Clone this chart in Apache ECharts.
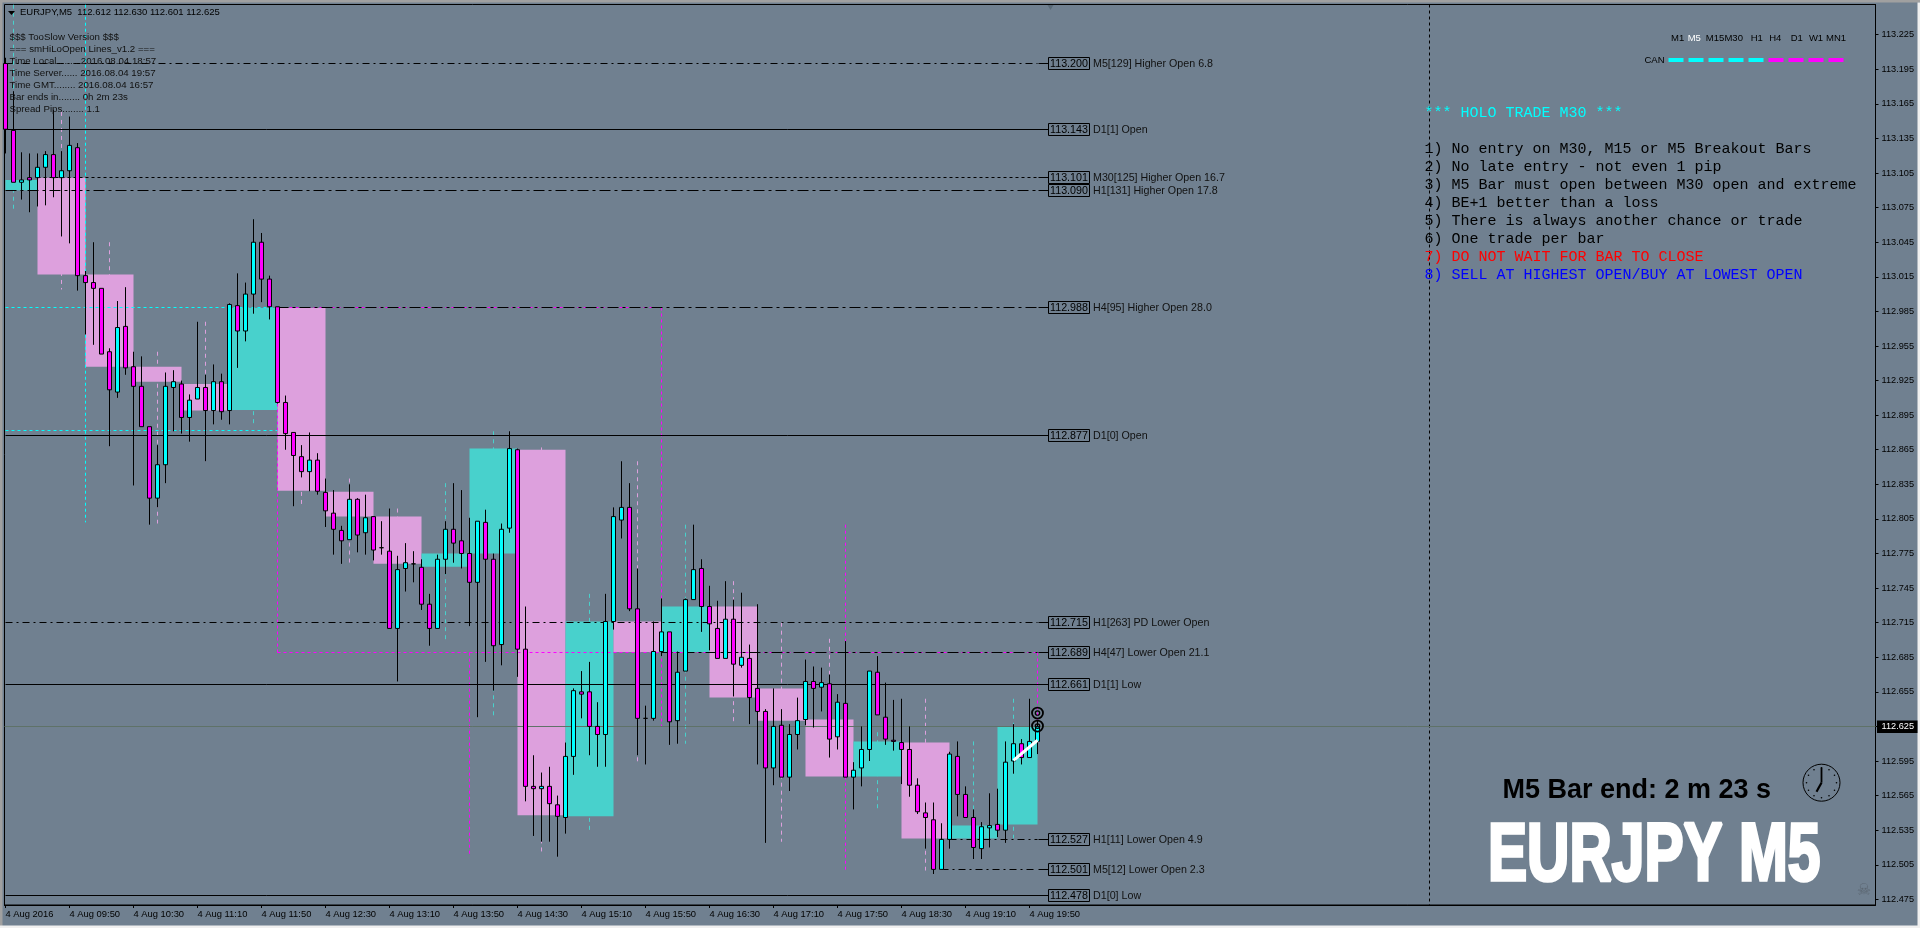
<!DOCTYPE html>
<html><head><meta charset="utf-8">
<style>html,body{margin:0;padding:0;background:#f0f0f0}#c{width:1920px;height:928px}</style>
<script src="https://cdn.jsdelivr.net/npm/echarts@6/dist/echarts.min.js"></script>
</head><body><div id="c"></div>
<script>
const opens=[113.200,113.142,113.097,113.101,113.101,113.110,113.121,113.101,113.107,113.127,
113.016,113.010,113.005,112.950,112.915,112.972,112.937,112.920,112.885,112.823,
112.852,112.919,112.922,112.893,112.909,112.919,112.899,112.924,112.899,112.990,
112.968,113.000,113.045,113.013,112.989,112.906,112.880,112.859,112.846,112.856,
112.828,112.810,112.795,112.787,112.822,112.793,112.807,112.780,112.777,112.710,
112.762,112.766,112.763,112.731,112.710,112.770,112.796,112.786,112.775,112.750,
112.802,112.770,112.696,112.797,112.865,112.692,112.573,112.571,112.573,112.557,
112.546,112.599,112.655,112.655,112.625,112.618,112.716,112.804,112.815,112.727,
112.632,112.632,112.690,112.707,112.630,112.673,112.735,112.762,112.729,112.710,
112.684,112.718,112.678,112.684,112.658,112.638,112.589,112.626,112.581,112.618,
112.631,112.664,112.659,112.662,112.616,112.645,112.581,112.589,112.605,112.672,
112.633,112.613,112.611,112.605,112.574,112.550,112.544,112.501,112.527,112.599,
112.566,112.546,112.519,112.537,112.540,112.535,112.595,112.610,112.598,112.612];
const closes=[113.143,113.097,113.099,113.099,113.110,113.121,113.101,113.107,113.129,113.016,
113.010,113.005,112.948,112.917,112.971,112.936,112.920,112.885,112.823,112.852,
112.920,112.924,112.893,112.908,112.919,112.899,112.924,112.898,112.991,112.968,
113.000,113.045,113.013,112.989,112.906,112.879,112.860,112.846,112.856,112.829,
112.812,112.796,112.786,112.822,112.791,112.806,112.778,112.780,112.710,112.761,
112.767,112.766,112.731,112.710,112.770,112.796,112.784,112.775,112.750,112.803,
112.770,112.695,112.796,112.866,112.692,112.573,112.571,112.573,112.558,112.547,
112.599,112.656,112.653,112.625,112.618,112.716,112.807,112.815,112.727,112.632,
112.632,112.690,112.707,112.629,112.672,112.735,112.761,112.729,112.714,112.684,
112.718,112.679,112.685,112.650,112.638,112.589,112.625,112.581,112.618,112.630,
112.664,112.658,112.663,112.614,112.646,112.581,112.587,112.605,112.673,112.635,
112.614,112.612,112.605,112.574,112.551,112.546,112.501,112.527,112.601,112.566,
112.546,112.520,112.538,112.539,112.535,112.594,112.610,112.598,112.612,112.625];
const highs=[113.205,113.176,113.123,113.122,113.122,113.124,113.160,113.124,113.154,113.131,
113.020,113.045,113.005,112.953,112.994,113.006,112.950,112.946,112.885,112.869,
112.932,112.934,112.925,112.913,112.976,112.930,112.939,112.931,112.992,113.018,
113.010,113.065,113.053,113.016,112.989,112.912,112.880,112.869,112.880,112.862,
112.840,112.830,112.799,112.835,112.823,112.826,112.807,112.803,112.814,112.773,
112.784,112.777,112.770,112.740,112.774,112.803,112.836,112.830,112.806,112.803,
112.813,112.775,112.801,112.881,112.866,112.729,112.600,112.585,112.590,112.565,
112.611,112.658,112.673,112.681,112.646,112.740,112.815,112.855,112.836,112.762,
112.643,112.716,112.736,112.707,112.690,112.736,112.800,112.770,112.747,112.734,
112.751,112.735,112.741,112.696,112.731,112.640,112.658,112.640,112.627,112.650,
112.683,112.677,112.676,112.670,112.653,112.699,112.594,112.625,112.673,112.686,
112.663,112.648,112.649,112.625,112.580,112.559,112.559,112.541,112.603,112.612,
112.573,112.553,112.542,112.567,112.571,112.612,112.627,112.614,112.649,112.630];
const lows=[113.122,113.097,113.082,113.071,113.076,113.077,113.084,113.050,113.044,113.003,
112.965,112.956,112.948,112.868,112.910,112.930,112.834,112.885,112.800,112.815,
112.836,112.881,112.879,112.872,112.909,112.855,112.887,112.891,112.887,112.936,
112.959,112.983,112.993,112.978,112.905,112.865,112.816,112.841,112.829,112.826,
112.798,112.774,112.766,112.787,112.776,112.774,112.769,112.774,112.710,112.664,
112.742,112.750,112.726,112.695,112.710,112.757,112.767,112.762,112.712,112.633,
112.681,112.656,112.678,112.793,112.668,112.560,112.530,112.525,112.525,112.512,
112.532,112.583,112.632,112.600,112.590,112.590,112.709,112.788,112.725,112.600,
112.592,112.630,112.686,112.609,112.610,112.673,112.735,112.707,112.691,112.684,
112.684,112.651,112.676,112.627,112.592,112.524,112.574,112.581,112.569,112.605,
112.626,112.624,112.638,112.598,112.605,112.581,112.553,112.573,112.595,112.635,
112.609,112.604,112.575,112.564,112.549,112.519,112.497,112.501,112.519,112.547,
112.546,112.510,112.510,112.520,112.529,112.524,112.584,112.592,112.598,112.601];

const timeLabels=["4 Aug 2016","4 Aug 09:50","4 Aug 10:30","4 Aug 11:10","4 Aug 11:50","4 Aug 12:30","4 Aug 13:10","4 Aug 13:50","4 Aug 14:30","4 Aug 15:10","4 Aug 15:50","4 Aug 16:30","4 Aug 17:10","4 Aug 17:50","4 Aug 18:30","4 Aug 19:10","4 Aug 19:50"];
const priceTicks=[112.475,112.505,112.535,112.565,112.595,112.625,112.655,112.685,112.715,112.745,112.775,112.805,112.835,112.865,112.895,112.925,112.955,112.985,113.015,113.045,113.075,113.105,113.135,113.165,113.195,113.225];

// M30 bodies
const boxStarts=[0,4,10,16,22,28,34,40,46,52,58,64,70,76,82,88,94,100,106,112,118,124];
const boxEnds=[4,10,16,22,28,34,40,46,52,58,64,70,76,82,88,94,100,106,112,118,124,129];
const boxTops=[113.099,113.101,113.017,112.937,112.922,112.988,112.988,112.8285,112.807,112.775,112.866,112.865,112.716,112.716,112.729,112.729,112.658,112.631,112.612,112.611,112.539,112.625];
const boxBottoms=[113.090,113.017,112.937,112.924,112.899,112.8995,112.8295,112.807,112.766,112.7635,112.775,112.548,112.547,112.6895,112.6895,112.650,112.630,112.5815,112.5815,112.5277,112.5277,112.540];
const boxBull=[1,0,0,0,0,1,0,0,0,1,1,0,1,0,1,0,0,0,1,0,1,1];
// M30 wicks
const wickBars=[1,7,13,19,25,31,37,43,49,55,61,67,73,79,85,91,97,103,109,115,121,126];
const wickHighs=[113.251,113.158,113.045,112.950,112.976,113.065,112.988,112.840,112.814,112.836,112.881,112.867,112.740,112.855,112.800,112.751,112.715,112.701,112.620,112.649,112.612,112.649];
const wickLows=[113.073,113.004,112.868,112.801,112.855,112.888,112.817,112.767,112.664,112.699,112.634,112.514,112.534,112.593,112.610,112.627,112.525,112.598,112.554,112.500,112.515,112.528];
// H4 dashed outlines and wicks
const h4Starts=[0,34,82];
const h4Ends=[34,82,129];
const h4Tops=[112.988,112.988,112.689];
const h4Bottoms=[112.882,112.689,112.625];
const h4WickBars=[10,58,105];
const h4WickHighs=[113.251,112.689,112.800];
const h4WickLows=[112.802,112.512,112.4985];
const h4Colors=["#00ffff","#ff00ff","#ff00ff"];
// labelled levels
const levelPrices=[113.200,113.143,113.101,113.090,112.988,112.877,112.715,112.689,112.661,112.527,112.501,112.478];
const levelStarts=[0,0,4,0,34,0,0,82,0,118,117,0];
const levelStyles=["dashdot","solid","dot","longdash","longdash","solid","dashdot","longdash","solid","dashdot","dashdot","solid"];
const levelNames=["M5[129] Higher Open 6.8","D1[1] Open","M30[125] Higher Open 16.7","H1[131] Higher Open 17.8","H4[95] Higher Open 28.0","D1[0] Open","H1[263] PD Lower Open","H4[47] Lower Open 21.1","D1[1] Low","H1[11] Lower Open 4.9","M5[12] Lower Open 2.3","D1[0] Low"];
const currentPrice=[112.625];
const separatorBar=[178];
const trendBars=[126,129];
const trendPrices=[112.5956,112.613];
const markerPrices=[112.6366,112.6253];
const lastBar=129;

const headerText="EURJPY,M5  112.612 112.630 112.601 112.625";
const infoLines=["$$$ TooSlow Version $$$","=== smHiLoOpen Lines_v1.2 ===","Time Local........ 2016.08.04 18:57","Time Server...... 2016.08.04 19:57","Time GMT........ 2016.08.04 16:57","Bar ends in........ 0h 2m 23s","Spread Pips........ 1.1"];
const ruleLines=["*** HOLO TRADE M30 ***","1) No entry on M30, M15 or M5 Breakout Bars","2) No late entry - not even 1 pip","3) M5 Bar must open between M30 open and extreme","4) BE+1 better than a loss","5) There is always another chance or trade","6) One trade per bar","7) DO NOT WAIT FOR BAR TO CLOSE","8) SELL AT HIGHEST OPEN/BUY AT LOWEST OPEN"];
const ruleColors=["#00ffff","#000","#000","#000","#000","#000","#000","#ff0000","#0000ff"];
const ruleRows=[113,149,167,185,203,221,239,257,275];
const tfNames=["M1","M5","M15","M30","H1","H4","D1","W1","MN1"];
const tfCentres=[1677.7,1694.3,1715,1733.7,1756.7,1775.3,1796.7,1816,1836];
const tfDashes=[1,1,1,1,1,-1,-1,-1,-1];

const SLATE="#708090",PINK="#dda0dd",TURQ="#48d1cc";
const crisp=v=>Math.floor(v)+0.5;
const DASH={solid:null,dot:[3,3],dashdot:[7,4,2,4],longdash:[11,4,3,4]};
const ui='"Liberation Sans",Arial,sans-serif';
const ln=(x1,y1,x2,y2,stroke,lineDash,lineWidth)=>({type:'line',shape:{x1,y1,x2,y2},style:{stroke,lineDash:lineDash||null,lineWidth:lineWidth||1,fill:null}});
const tx=(x,y,text,fill,font,align)=>({type:'text',x,y,silent:true,style:{text,fill,font,textAlign:align||'left',textVerticalAlign:'middle',align:align||'left',verticalAlign:'middle'}});

const g=[];
g.push({type:'rect',shape:{x:0,y:0,width:1920,height:2.5},style:{fill:'#a0a0a0'},silent:true});
g.push({type:'rect',shape:{x:0,y:0,width:2.5,height:928},style:{fill:'#a0a0a0'},silent:true});
g.push({type:'rect',shape:{x:1917.5,y:2.5,width:3,height:926},style:{fill:'#f0f0f0'},silent:true});
g.push({type:'rect',shape:{x:0,y:925.5,width:1920,height:3},style:{fill:'#f0f0f0'},silent:true});
g.push({type:'polygon',z:50,shape:{points:[[8,11],[15,11],[11.5,15]]},style:{fill:'#000'},silent:true});
g.push({type:'polygon',z:50,shape:{points:[[1047.5,5],[1053.5,5],[1050.5,10]]},style:{fill:'#5a6a78'},silent:true});
g.push(Object.assign(tx(20,12.5,headerText,'#000','9.5px '+ui),{z:50}));
infoLines.forEach((t,i)=>g.push(Object.assign(tx(9.5,37.7+12*i,t,'#111','9.7px '+ui),{z:50})));
ruleLines.forEach((t,i)=>g.push(Object.assign(tx(1424.5,ruleRows[i],t,ruleColors[i],'15px "Liberation Mono",monospace'),{z:50})));
tfNames.forEach((t,i)=>{
  g.push(Object.assign(tx(tfCentres[i],38.5,t,i===1?'#fff':'#000','9.5px '+ui,'center'),{z:50}));
  const x=1668.5+20*i;
  g.push({type:'rect',z:50,silent:true,shape:{x,y:58,width:15,height:4},style:{fill:tfDashes[i]>0?'#00ffff':'#ff00ff'}});
});
g.push(Object.assign(tx(1664.5,60.5,'CAN','#000','9.5px '+ui,'right'),{z:50}));
g.push(Object.assign(tx(1502.5,790.5,'M5 Bar end: 2 m 23 s','#000','bold 27px '+ui),{z:50}));
g.push({type:'text',z:50,silent:true,x:1488,y:857.5,scaleX:0.724,style:{text:'EURJPY M5',fill:'#fff',stroke:'#fff',lineWidth:3.5,font:'bold 81px "Liberation Sans Narrow","Liberation Sans",sans-serif',textAlign:'left',textVerticalAlign:'middle',verticalAlign:'middle'}});
// clock
const cx=1821.5,cy=782.7;
g.push({type:'circle',z:50,silent:true,shape:{cx,cy,r:18.5},style:{fill:null,stroke:'#000',lineWidth:1}});
for(let k=0;k<12;k++){const a=k*Math.PI/6;g.push({type:'circle',z:50,silent:true,shape:{cx:cx+15*Math.sin(a),cy:cy-15*Math.cos(a),r:0.8},style:{fill:'#000'}});}
g.push(Object.assign(ln(cx,cy,cx,cy-15,'#000',null,1.8),{z:50,silent:true}));
g.push(Object.assign(ln(cx,cy,cx-5,cy+9,'#000',null,2.2),{z:50,silent:true}));
g.push(Object.assign(tx(1864,891,'☠','#5b6672','16px "DejaVu Sans"','center'),{z:50}));

const option={
 animation:false,backgroundColor:SLATE,
 grid:{left:4.5,top:4.5,width:1871,height:900.5,show:true,borderColor:'#000',borderWidth:1,backgroundColor:SLATE},
 xAxis:{type:'value',min:-0.125,max:233.75,splitLine:{show:false},
  axisLine:{show:true,onZero:false,lineStyle:{color:'#000'}},
  axisTick:{show:true,length:3,lineStyle:{color:'#000'},customValues:timeLabels.map((_,i)=>i*8)},
  axisLabel:{customValues:timeLabels.map((_,i)=>i*8),align:'left',margin:5,color:'#000',fontSize:9.4,fontFamily:'Liberation Sans',formatter:v=>timeLabels[Math.round(v/8)]||''}},
 yAxis:{type:'value',position:'right',min:112.4701,max:113.2512,scale:true,splitLine:{show:false},
  axisLine:{show:true,onZero:false,lineStyle:{color:'#000'}},
  axisTick:{show:true,length:3,lineStyle:{color:'#000'},customValues:priceTicks},
  axisLabel:{customValues:priceTicks,margin:6,color:'#000',fontSize:9.2,fontFamily:'Liberation Sans',formatter:v=>v.toFixed(3)}},
 graphic:{elements:g},
 series:[
  {type:'custom',z:1,silent:true,data:wickBars.map((b,i)=>[b,wickHighs[i],wickLows[i]]),renderItem:(p,a)=>{
    const i=p.dataIndex,t=a.coord([a.value(0),a.value(1)]),b=a.coord([a.value(0),a.value(2)]);
    return ln(crisp(t[0]),t[1],crisp(t[0]),b[1],boxBull[i]?TURQ:PINK,[4,4]);}},
  {type:'custom',z:2,silent:true,data:boxStarts.map((s,i)=>[s,boxEnds[i],boxTops[i],boxBottoms[i]]),renderItem:(p,a)=>{
    const i=p.dataIndex,t=a.coord([a.value(0),a.value(2)]),b=a.coord([a.value(1),a.value(3)]);
    return {type:'rect',shape:{x:t[0],y:t[1],width:b[0]-t[0],height:b[1]-t[1]},style:{fill:boxBull[i]?TURQ:PINK}};}},
  {type:'custom',z:3,silent:true,data:h4Starts.map((s,i)=>[s,h4Ends[i],h4Tops[i],h4Bottoms[i],h4WickBars[i],h4WickHighs[i],h4WickLows[i]]),renderItem:(p,a)=>{
    const c=h4Colors[p.dataIndex],d=[3,3],t=a.coord([a.value(0),a.value(2)]),b=a.coord([a.value(1),a.value(3)]);
    const w1=a.coord([a.value(4),a.value(5)]),w2=a.coord([a.value(4),a.value(6)]);
    const X1=crisp(t[0]),X2=crisp(b[0]),Y1=crisp(t[1]),Y2=crisp(b[1]),W=crisp(w1[0]);
    const k=[ln(X1,Y1,X2,Y1,c,d),ln(X1,Y2,X2,Y2,c,d),ln(X2,Y1,X2,Y2,c,d),ln(W,w1[1],W,w2[1],c,d)];
    if(p.dataIndex>0)k.push(ln(X1,Y1,X1,Y2,c,d));
    return {type:'group',children:k};}},
  {type:'custom',z:4,silent:true,data:separatorBar.map(b=>[b]),renderItem:(p,a)=>{
    const c=a.coord([a.value(0),113]),s=p.coordSys;
    return ln(crisp(c[0]),s.y,crisp(c[0]),s.y+s.height,'#000',[3,3]);}},
  {type:'custom',z:4,silent:true,data:currentPrice.map(v=>[v]),clip:false,renderItem:(p,a)=>{
    const c=a.coord([0,a.value(0)]),s=p.coordSys,Y=crisp(c[1]),R=s.x+s.width;
    return {type:'group',children:[ln(s.x,Y,R,Y,'#5f7268'),
      {type:'rect',shape:{x:R+1.5,y:Y-6,width:40.5,height:12.5},style:{fill:'#000'}},
      {type:'text',x:R+6,y:Y,style:{text:a.value(0).toFixed(3),fill:'#fff',font:'9.2px '+ui,textAlign:'left',textVerticalAlign:'middle',verticalAlign:'middle'}}]};}},
  {type:'custom',z:5,silent:true,clip:false,data:levelPrices.map((v,i)=>[levelStarts[i],v]),renderItem:(p,a)=>{
    const i=p.dataIndex,s=a.coord([a.value(0),a.value(1)]),e=a.coord([lastBar,a.value(1)]),bx=a.coord([130.4,a.value(1)])[0];
    const Y=crisp(s[1]),st=levelStyles[i],BX=crisp(bx);
    const k=[];
    if(st==='solid')k.push(ln(s[0],Y,BX,Y,'#000'));
    else{k.push(ln(s[0],Y,e[0],Y,'#000',DASH[st]));k.push(ln(BX-10,Y,BX,Y,'#000'));}
    k.push({type:'rect',shape:{x:BX,y:Y-6,width:41,height:12},style:{fill:SLATE,stroke:'#000',lineWidth:1}});
    k.push({type:'text',x:BX+20.5,y:Y+1,style:{text:a.value(1).toFixed(3),fill:'#000',font:'10.7px '+ui,textAlign:'center',align:'center',textVerticalAlign:'middle',verticalAlign:'middle'}});
    k.push({type:'text',x:BX+44.5,y:Y+1,style:{text:levelNames[i],fill:'#111',font:'10.7px '+ui,textAlign:'left',textVerticalAlign:'middle',verticalAlign:'middle'}});
    return {type:'group',children:k};}},
  {type:'candlestick',z:6,silent:true,barWidth:5,data:opens.map((o,i)=>[i,o,closes[i],lows[i],highs[i]]),encode:{x:0,y:[1,2,3,4]},
   itemStyle:{color:'#00ffff',color0:'#ff00ff',borderColor:'#000',borderColor0:'#000',borderColorDoji:'#000',borderWidth:1}},
  {type:'line',z:7,silent:true,symbol:'none',data:trendBars.map((b,i)=>[b,trendPrices[i]]),lineStyle:{color:'#fff',width:3}},
  {type:'custom',z:8,silent:true,clip:false,data:markerPrices.map(v=>[lastBar,v]),renderItem:(p,a)=>{
    const c=a.coord([a.value(0),a.value(1)]);
    return {type:'group',children:[{type:'circle',shape:{cx:c[0],cy:c[1],r:5.5},style:{fill:'none',stroke:'#000',lineWidth:1.8}},
      {type:'circle',shape:{cx:c[0],cy:c[1],r:2.2},style:{fill:'none',stroke:'#000',lineWidth:1.2}}]};}}
 ]
};
const chart=echarts.init(document.getElementById('c'),null,{renderer:'canvas',width:1920,height:928});
chart.setOption(option);
</script></body></html>
